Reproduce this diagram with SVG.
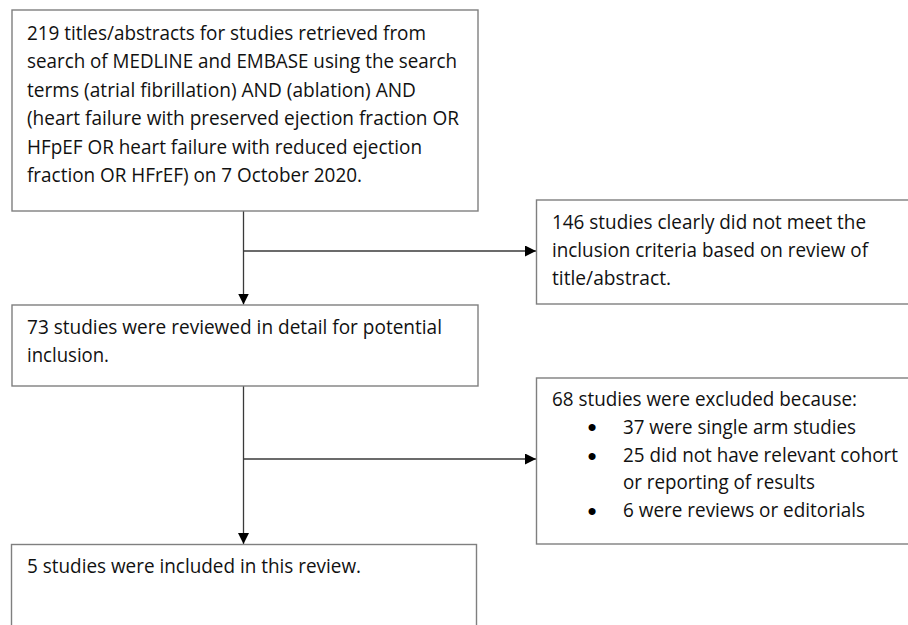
<svg xmlns="http://www.w3.org/2000/svg" width="908" height="625" viewBox="0 0 908 625">
<defs>
<style>
.box{fill:#ffffff;stroke:#7f7f7f;stroke-width:1.4}
.t{font-family:"Open Sans","Noto Sans","Liberation Sans",sans-serif;font-size:19.5px;fill:#111111}
.b{font-family:"Liberation Sans",Arial,sans-serif;font-size:26px;fill:#000000;text-anchor:middle}
.c{fill:none;stroke:#3a3a3a;stroke-width:1.3}
</style>
<marker id="ah" markerUnits="userSpaceOnUse" markerWidth="12" markerHeight="12" refX="11" refY="5.5" orient="auto">
<path d="M0,0 L11,5.5 L0,11 Z" fill="#000000"/>
</marker>
</defs>
<rect width="908" height="625" fill="#ffffff"/>
<g id="connectors">
<line class="c" x1="243.5" y1="211" x2="243.5" y2="304.5" marker-end="url(#ah)"/>
<line class="c" x1="243.5" y1="251" x2="536" y2="251" marker-end="url(#ah)"/>
<line class="c" x1="243.5" y1="386" x2="243.5" y2="544" marker-end="url(#ah)"/>
<line class="c" x1="243.5" y1="459" x2="536" y2="459" marker-end="url(#ah)"/>
</g>
<g id="node-search">
<rect class="box" x="12" y="10" width="466" height="201"/>
<text class="t" x="27" y="39.5" textLength="399" lengthAdjust="spacingAndGlyphs">219 titles/abstracts for studies retrieved from</text>
<text class="t" x="27" y="68" textLength="430" lengthAdjust="spacingAndGlyphs">search of MEDLINE and EMBASE using the search</text>
<text class="t" x="27" y="96.5" textLength="389" lengthAdjust="spacingAndGlyphs">terms (atrial fibrillation) AND (ablation) AND</text>
<text class="t" x="27" y="125" textLength="432" lengthAdjust="spacingAndGlyphs">(heart failure with preserved ejection fraction OR</text>
<text class="t" x="27" y="153.5" textLength="395" lengthAdjust="spacingAndGlyphs">HFpEF OR heart failure with reduced ejection</text>
<text class="t" x="27" y="182" textLength="335" lengthAdjust="spacingAndGlyphs">fraction OR HFrEF) on 7 October 2020.</text>
</g>
<g id="node-excluded1">
<rect class="box" x="536.5" y="200" width="390" height="104"/>
<text class="t" x="552" y="229" textLength="314" lengthAdjust="spacingAndGlyphs">146 studies clearly did not meet the</text>
<text class="t" x="552" y="257" textLength="316" lengthAdjust="spacingAndGlyphs">inclusion criteria based on review of</text>
<text class="t" x="552" y="285" textLength="119" lengthAdjust="spacingAndGlyphs">title/abstract.</text>
</g>
<g id="node-reviewed">
<rect class="box" x="12" y="305" width="466" height="81"/>
<text class="t" x="27" y="333.5" textLength="415" lengthAdjust="spacingAndGlyphs">73 studies were reviewed in detail for potential</text>
<text class="t" x="27" y="361.5" textLength="82" lengthAdjust="spacingAndGlyphs">inclusion.</text>
</g>
<g id="node-excluded2">
<rect class="box" x="536.5" y="378" width="390" height="166"/>
<text class="t" x="552" y="406" textLength="305" lengthAdjust="spacingAndGlyphs">68 studies were excluded because:</text>
<text class="b" x="592" y="436">•</text>
<text class="t" x="623" y="433.5" textLength="233" lengthAdjust="spacingAndGlyphs">37 were single arm studies</text>
<text class="b" x="592" y="464.5">•</text>
<text class="t" x="623" y="462" textLength="275" lengthAdjust="spacingAndGlyphs">25 did not have relevant cohort</text>
<text class="t" x="623" y="488.5" textLength="192" lengthAdjust="spacingAndGlyphs">or reporting of results</text>
<text class="b" x="592" y="519.5">•</text>
<text class="t" x="623" y="517" textLength="242" lengthAdjust="spacingAndGlyphs">6 were reviews or editorials</text>
</g>
<g id="node-included">
<rect class="box" x="11.5" y="544.5" width="465" height="100"/>
<text class="t" x="27" y="573" textLength="334" lengthAdjust="spacingAndGlyphs">5 studies were included in this review.</text>
</g>
</svg>
